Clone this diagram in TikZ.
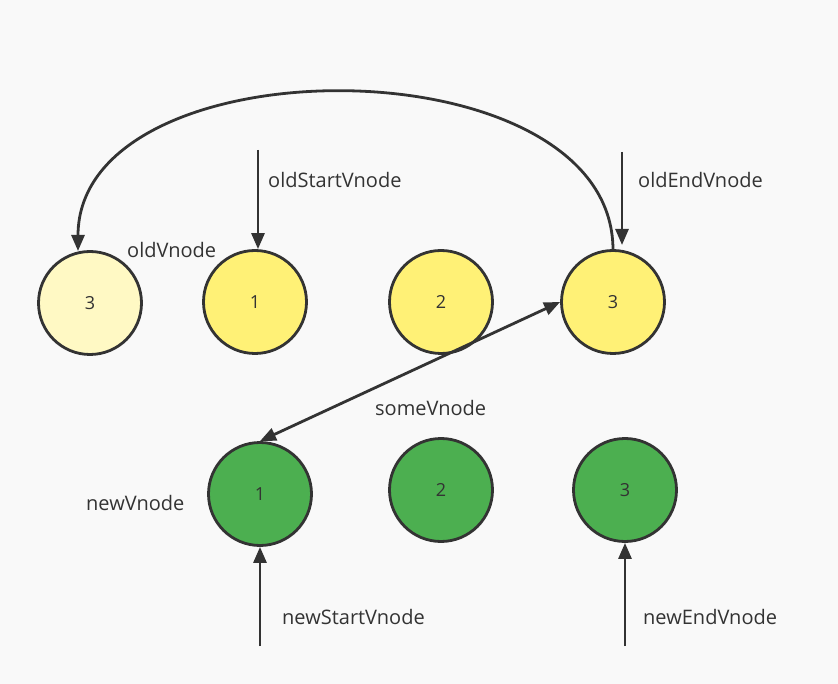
\documentclass[tikz,border=0pt]{standalone}
\usepackage{fontspec}
\setmainfont{Open Sans}
\usetikzlibrary{arrows.meta}
\definecolor{bg}{HTML}{F9F9F9}
\definecolor{strk}{HTML}{333333}
\definecolor{oldyel}{HTML}{FFF176}
\definecolor{fadeyel}{HTML}{FFF9C4}
\definecolor{newgrn}{HTML}{4CAF50}
\tikzset{
  vn/.style={circle, draw=strk, line width=2.8pt, minimum size=103pt, inner sep=0pt, font=\fontsize{18}{20}\selectfont, text=strk},
  lbl/.style={anchor=west, inner sep=0pt, font=\fontsize{20}{23}\selectfont, text=strk},
  conn/.style={draw=strk, line width=2.8pt, -{Triangle[length=16pt,width=13pt]}},
  dconn/.style={draw=strk, line width=2.8pt, {Triangle[length=16pt,width=13pt]}-{Triangle[length=16pt,width=13pt]}}
}
\begin{document}
\begin{tikzpicture}[x=1pt,y=-1pt]
\fill[bg] (0,0) rectangle (838,684);
\useasboundingbox (0,0) rectangle (838,684);
% old row
\node[vn, fill=fadeyel] (f3) at (90,303) {3};
\node[vn, fill=oldyel] (o1) at (255,302) {1};
\node[vn, fill=oldyel] (o2) at (441,302) {2};
\node[vn, fill=oldyel] (o3) at (613,302) {3};
% new row
\node[vn, fill=newgrn] (n1) at (260,494) {1};
\node[vn, fill=newgrn] (n2) at (441,490) {2};
\node[vn, fill=newgrn] (n3) at (625,490) {3};
% labels
\node[lbl] (loldstart) at (268,180) {oldStartVnode};
\node[lbl] (loldend) at (638,180) {oldEndVnode};
\node[lbl] (loldv) at (127,250) {oldVnode};
\node[lbl] (lsome) at (375,408) {someVnode};
\node[lbl] (lnewv) at (86,503) {newVnode};
\node[lbl] (lnewstart) at (282,617) {newStartVnode};
\node[lbl] (lnewend) at (643,617) {newEndVnode};
% free ends
\coordinate (os) at (258,150);
\coordinate (oe) at (622,152);
\coordinate (oet) at (622,245);
\coordinate (ns) at (260,646);
\coordinate (ne) at (625,646);
\coordinate (ctop) at (613,250);
\coordinate (cend) at (78,251);
% connectors
\draw[conn] (os) -- (o1.north -| os);
\draw[conn] (oe) -- (oet);
\draw[conn] (ns) -- (n1.south);
\draw[conn] (ne) -- (n3.south);
\draw[dconn] (n1.north) -- (o3.west);
\draw[conn] (ctop) .. controls (613,40) and (78,40) .. (cend);
\end{tikzpicture}
\end{document}
